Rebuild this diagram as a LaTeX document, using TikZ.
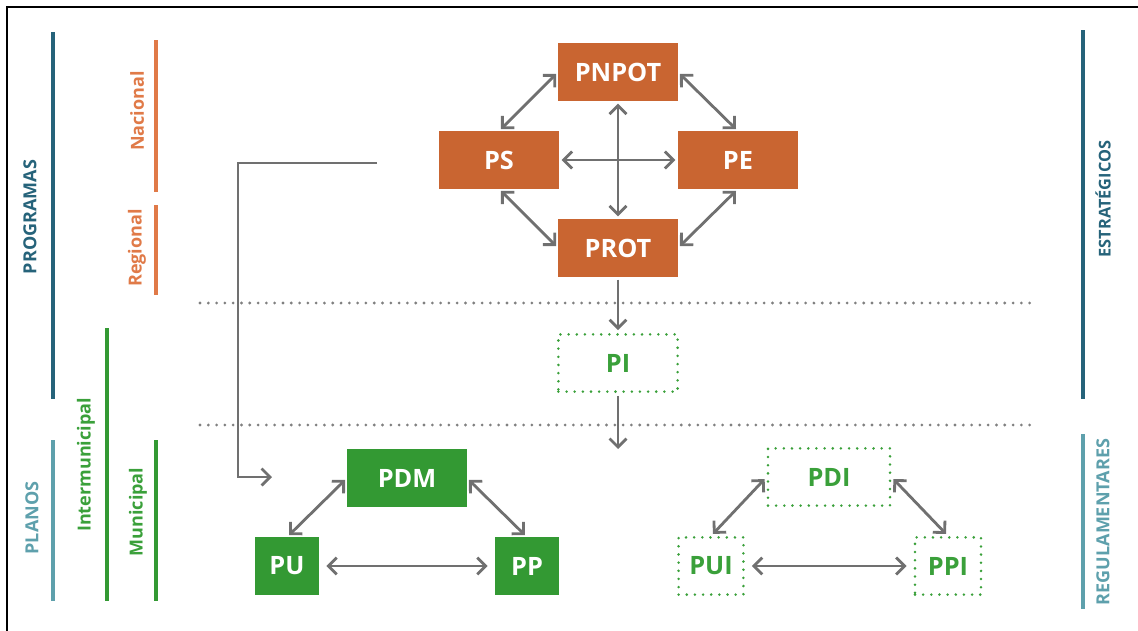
\documentclass[tikz,border=0pt]{standalone}
\usepackage{fontspec}
\setmainfont{Open Sans}
\usepackage{tikz}
\usetikzlibrary{positioning, arrows.meta}

\definecolor{boxorange}{RGB}{201,101,49}
\definecolor{boxgreen}{RGB}{51,153,51}
\definecolor{txtgreen}{RGB}{58,160,58}
\definecolor{lblorange}{RGB}{224,122,72}
\definecolor{darkteal}{RGB}{38,99,122}
\definecolor{lightteal}{RGB}{94,160,172}
\definecolor{arrowgray}{RGB}{112,112,112}
\definecolor{dotgray}{RGB}{128,128,128}

\begin{document}
\begin{tikzpicture}[
  x=0.025cm, y=-0.025cm,
  >={Straight Barb[length=6pt, width=12pt]},
  orangebox/.style={fill=boxorange, text=white, inner sep=0pt,
    minimum width=2.98cm, minimum height=1.43cm,
    font=\bfseries\fontsize{18}{21}\selectfont},
  greenbox/.style={orangebox, fill=boxgreen},
  dotbox/.style={draw=txtgreen, text=txtgreen, inner sep=0pt,
    line width=2pt, line cap=round, dash pattern=on 0pt off 5.8pt,
    minimum width=2.98cm, minimum height=1.43cm,
    font=\bfseries\fontsize{18}{21}\selectfont},
  conn/.style={draw=arrowgray, line width=2pt, shorten <=2pt, shorten >=2pt},
  sidelabel/.style={rotate=90, font=\bfseries\fontsize{12.8}{15}\selectfont},
  bar/.style={line width=2.8pt},
  sep/.style={dotgray, line width=2.2pt, line cap=round, dash pattern=on 0pt off 5.9pt},
]
\useasboundingbox (0,0) rectangle (1138,631);
\clip (0,0) rectangle (1138,631);

% --- Frame ---
\draw[line width=1.4pt] (7,660) -- (7,7) -- (1160,7);

% --- Side bars ---
\draw[bar, darkteal] (53,32) -- (53,399);
\draw[bar, lightteal] (53,440) -- (53,601);
\draw[bar, boxgreen] (107,328) -- (107,601);
\draw[bar, lblorange, line width=2.2pt] (156,40) -- (156,192);
\draw[bar, lblorange, line width=2.2pt] (156,205) -- (156,295);
\draw[bar, boxgreen] (156,440) -- (156,601);
\draw[bar, darkteal] (1083,30) -- (1083,399);
\draw[bar, lightteal] (1083,434) -- (1083,609);

% Side labels
\node[sidelabel, darkteal] (programas) at (30,217) {PROGRAMAS};
\node[sidelabel, lightteal] (planos) at (32,518) {PLANOS};
\node[sidelabel, txtgreen] (intermun) at (86,465) {Intermunicipal};
\node[sidelabel, lblorange] (nacional) at (137,111) {Nacional};
\node[sidelabel, lblorange] (regional) at (137,248) {Regional};
\node[sidelabel, txtgreen] (municipal) at (138,512) {Municipal};
\node[sidelabel, darkteal, font=\bfseries\fontsize{11.6}{14}\selectfont] (estrat) at (1103,199) {ESTRATÉGICOS};
\node[sidelabel, lightteal] (regul) at (1103,522) {REGULAMENTARES};

% --- Level separators ---
\draw[sep] (200,303) -- (1037,303);
\draw[sep] (200,425) -- (1037,425);

% --- Strategic programmes ---
\node[orangebox] (pnpot) at (618,72) {PNPOT};
\node[orangebox] (ps) at (499,160) {PS};
\node[orangebox] (pe) at (738,160) {PE};
\node[orangebox] (prot) at (618,248) {PROT};

\draw[conn, <->] (pnpot.west) -- (ps.north);
\draw[conn, <->] (pnpot.east) -- (pe.north);
\draw[conn, <->] (ps.south) -- (prot.west);
\draw[conn, <->] (pe.south) -- (prot.east);
\draw[conn, <->] (pnpot.south) -- (prot.north);
\draw[conn, <->] (ps.east) -- (pe.west);

% --- Intermunicipal ---
\node[dotbox] (pi) at (618,363) {PI};
\draw[conn, ->] (prot.south) -- (pi.north);
\coordinate (pidown) at (618,449);
\draw[conn, ->, shorten >=0pt] (pi.south) -- (pidown);

% --- Municipal plans ---
\node[greenbox] (pdm) at (407,478) {PDM};
\node[greenbox, minimum width=1.6cm] (pu) at (287,566) {PU};
\node[greenbox, minimum width=1.6cm] (pp) at (527,566) {PP};

\draw[conn, <->] (pdm.west) -- (pu.north);
\draw[conn, <->] (pdm.east) -- (pp.north);
\draw[conn, <->, shorten <=5pt, shorten >=5pt] (pu) -- (pp);

% Link from the national level
\coordinate (lstart) at (377,163);
\coordinate (lcorner) at (238,477);
\coordinate (lend) at (272,477);
\draw[conn, ->, shorten <=0pt, shorten >=0pt] (lstart) -| (lcorner) -- (lend);

% --- Intermunicipal plans ---
\node[dotbox, minimum width=3.05cm] (pdi) at (829,477) {PDI};
\node[dotbox, minimum width=1.62cm] (pui) at (711,566) {PUI};
\node[dotbox, minimum width=1.65cm] (ppi) at (948,566) {PPI};

\draw[conn, <->] (pdi.west) -- (pui.north);
\draw[conn, <->] (pdi.east) -- (ppi.north);
\draw[conn, <->, shorten <=5pt, shorten >=5pt] (pui) -- (ppi);

\end{tikzpicture}
\end{document}
